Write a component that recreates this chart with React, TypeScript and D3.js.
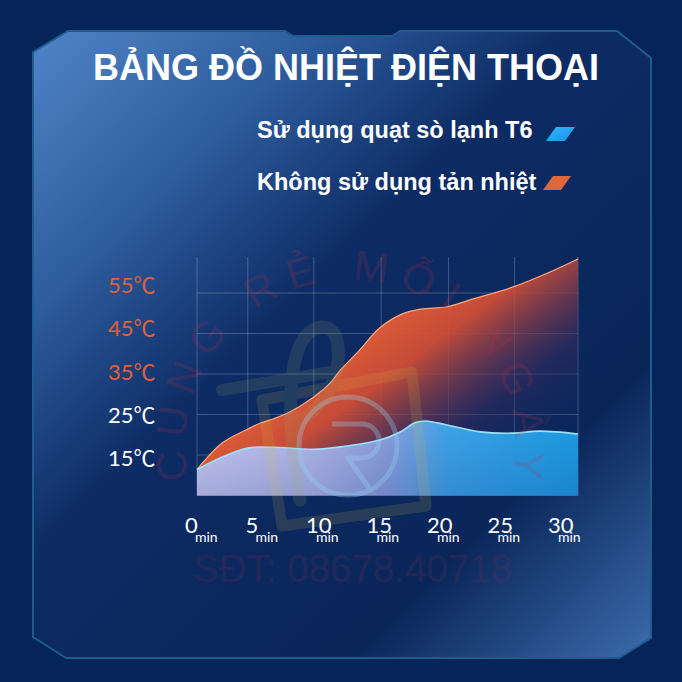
import React from "react";
import * as d3 from "d3";

// ---- data ----
const title = "BẢNG ĐỒ NHIỆT ĐIỆN THOẠI";
const legendLabels = ["Sử dụng quạt sò lạnh T6", "Không sử dụng tản nhiệt"];
const yTickTemps = [55, 45, 35, 25, 15];
const yTickHot = [true, true, true, false, false];
const xTickLabels = ["0", "5", "10", "15", "20", "25", "30"];
const gridMinutes = [0, 4, 9.2, 14.5, 19.8, 25, 30];
const gridTemps = [15, 25, 35, 45, 55];

// No cooling (orange)
const heatMinutes = [0, 2.0, 4.0, 5.0, 6.0, 7.3, 9.2, 10.5, 11.3, 12.6, 14.4, 16.0, 17.6, 19.7, 21.5, 24.9, 27.8, 30];
const heatTemps = [11.4, 18.0, 21.4, 22.9, 23.9, 25.6, 29.3, 32.8, 36.0, 40.2, 46.4, 49.6, 51.0, 51.6, 53.3, 56.5, 60.2, 63.4];

// With cooling fan (blue)
const coolMinutes = [0, 2.0, 4.0, 6.0, 9.2, 11.3, 14.4, 16.0, 17.2, 18.0, 19.7, 22.3, 24.9, 27.0, 30];
const coolTemps = [11.4, 14.5, 16.7, 16.9, 16.4, 17.0, 18.7, 20.7, 23.0, 23.4, 22.4, 20.7, 20.4, 20.9, 20.2];

const watermarkArc = "CUNG RẺ MỖI NGÀY";
const watermarkPhone = "SĐT: 08678.40718";

// ---- layout ----
const W = 682;
const H = 682;
const x = d3.scaleLinear().domain([0, 30]).range([197, 578]);
const y = d3.scaleLinear().domain([15, 55]).range([455, 293]);
const yLabel = d3.scaleLinear().domain([15, 55]).range([458, 285]);
const xLabel = d3.scalePoint<string>().domain(xTickLabels).range([185, 548]);
const chartTop = 257;
const chartBottom = 495.5;

const heatData = heatMinutes.map((m, i) => ({ m, t: heatTemps[i] }));
const coolData = coolMinutes.map((m, i) => ({ m, t: coolTemps[i] }));

const curve = d3.curveCatmullRom.alpha(0.5);
const area = d3
  .area<{ m: number; t: number }>()
  .x((d) => x(d.m))
  .y0(chartBottom)
  .y1((d) => y(d.t))
  .curve(curve);
const line = d3
  .line<{ m: number; t: number }>()
  .x((d) => x(d.m))
  .y((d) => y(d.t))
  .curve(curve);

const panelPath =
  "M33,52 L68,31 L285,31 L293,36 L392,36 L400,31 L617,31 L651,58 L651,638 L619,658 L66,658 L33,637 Z";

export default function App() {
  const cx = 350, cy = 445, r = 165;
  const a0 = (168 * Math.PI) / 180, a1 = (12 * Math.PI) / 180;
  const arcPath = `M${cx + r * Math.cos(a0)},${cy + r * Math.sin(a0)} A${r},${r} 0 1 1 ${cx + r * Math.cos(a1)},${cy + r * Math.sin(a1)}`;
  return (
    <svg
      width={W}
      height={H}
      viewBox={`0 0 ${W} ${H}`}
      style={{ position: "absolute", left: 0, top: 0, display: "block" }}
    >
      <defs>
        <linearGradient id="panelGrad" gradientUnits="userSpaceOnUse" x1={33} y1={31} x2={651} y2={658}>
          <stop offset="0" stopColor="#5084c7" />
          <stop offset="0.22" stopColor="#2f5e9f" />
          <stop offset="0.43" stopColor="#0d2b64" />
          <stop offset="0.76" stopColor="#0a2659" />
          <stop offset="1" stopColor="#3c6cad" />
        </linearGradient>
        <linearGradient id="heatGrad" gradientUnits="userSpaceOnUse" x1={360} y1={280} x2={500} y2={470}>
          <stop offset="0" stopColor="#f06a36" />
          <stop offset="0.4" stopColor="#cf4d36" stopOpacity="0.95" />
          <stop offset="0.75" stopColor="#3a2a5e" stopOpacity="0.55" />
          <stop offset="1" stopColor="#0d2a62" stopOpacity="0.15" />
        </linearGradient>
        <linearGradient id="coolGrad" gradientUnits="userSpaceOnUse" x1={197} y1={0} x2={578} y2={0}>
          <stop offset="0" stopColor="#cbcbf2" />
          <stop offset="0.3" stopColor="#b4b8e8" />
          <stop offset="0.5" stopColor="#8c9fdc" />
          <stop offset="0.66" stopColor="#3ea4e8" />
          <stop offset="1" stopColor="#1c9ce3" />
        </linearGradient>
        <linearGradient id="coolShade" gradientUnits="userSpaceOnUse" x1={0} y1={420} x2={0} y2={496}>
          <stop offset="0" stopColor="#0a2a7a" stopOpacity="0" />
          <stop offset="1" stopColor="#0a2a7a" stopOpacity="0.2" />
        </linearGradient>
        <linearGradient id="blueIcon" x1="0" y1="0" x2="1" y2="1">
          <stop offset="0" stopColor="#35b8ff" />
          <stop offset="1" stopColor="#1a8fe8" />
        </linearGradient>
      </defs>

      <rect x={0} y={0} width={W} height={H} fill="#04245a" />
      <path d={panelPath} fill="url(#panelGrad)" stroke="#1c5d8c" strokeWidth={2} />

      {/* title */}
      <text
        x={346}
        y={80}
        textAnchor="middle"
        fill="#ffffff"
        fontFamily="'Liberation Sans', Arial, sans-serif"
        fontWeight="bold"
        fontSize={36}
      >
        {title}
      </text>

      {/* legend */}
      <text x={257} y={138} fill="#ffffff" fontFamily="'Liberation Sans', Arial, sans-serif" fontWeight="bold" fontSize={23.5}>
        {legendLabels[0]}
      </text>
      <polygon points="556,127 575,127 565,141 546,141" fill="url(#blueIcon)" />
      <text x={257} y={190} fill="#ffffff" fontFamily="'Liberation Sans', Arial, sans-serif" fontWeight="bold" fontSize={23.5}>
        {legendLabels[1]}
      </text>
      <polygon points="553,176 571,176 561,190 543,190" fill="#e0663c" />

      {/* grid */}
      <g stroke="#ffffff" strokeOpacity={0.22} strokeWidth={1}>
        {gridMinutes.map((m, i) => (
          <line key={"v" + i} x1={x(m)} x2={x(m)} y1={chartTop} y2={chartBottom} />
        ))}
        {gridTemps.map((t, i) => (
          <line key={"h" + i} x1={x(0)} x2={x(30)} y1={y(t)} y2={y(t)} />
        ))}
        <line x1={x(0)} x2={x(30)} y1={chartBottom} y2={chartBottom} />
      </g>

      {/* areas */}
      <path d={area(heatData) || ""} fill="url(#heatGrad)" />
      <path d={line(heatData) || ""} fill="none" stroke="#ffab7a" strokeWidth={1.2} />
      <path d={area(coolData) || ""} fill="url(#coolGrad)" />
      <path d={area(coolData) || ""} fill="url(#coolShade)" />
      <path d={line(coolData) || ""} fill="none" stroke="#9be4ff" strokeWidth={1.6} />

      {/* watermark */}
      <g opacity={0.14} fill="none">
        <path d="M262,400 L412,372 L426,506 L282,526 Z" stroke="#d8c040" strokeWidth={11} strokeLinejoin="round" />
        <path d="M300,500 C290,440 285,380 300,345 C312,320 335,322 338,345 C342,380 320,410 300,420" stroke="#a0b060" strokeWidth={13} strokeLinecap="round" />
        <path d="M222,390 L330,372" stroke="#a0b060" strokeWidth={12} strokeLinecap="round" />
      </g>
      <g opacity={0.32} fill="none" stroke="#9ad4f5" strokeWidth={5}>
        <circle cx={348} cy={446} r={49} />
        <path d="M332,424 L362,424 A17,17 0 0 1 362,458 L348,458 L372,492" strokeLinejoin="round" />
      </g>
      <path id="wmArc" d={arcPath} fill="none" stroke="none" />
      <text fill="#c0304a" opacity={0.18} fontFamily="'Liberation Sans', Arial, sans-serif" fontSize={42}>
        <textPath href="#wmArc" startOffset="0" textLength={585} lengthAdjust="spacing">
          {watermarkArc}
        </textPath>
      </text>
      <text
        x={193}
        y={582}
        fill="#a0284a"
        opacity={0.15}
        fontFamily="'Liberation Sans', Arial, sans-serif"
        fontSize={38}
        textLength={319}
        lengthAdjust="spacingAndGlyphs"
      >
        {watermarkPhone}
      </text>

      {/* y labels */}
      {yTickTemps.map((t, i) => (
        <text
          key={"yl" + i}
          x={108}
          y={yLabel(t) + 8}
          fill={yTickHot[i] ? "#e0603c" : "#ffffff"}
          fontFamily="Lato, 'Noto Sans CJK SC', sans-serif"
          fontSize={22}
        >
          {`${t}℃`}
        </text>
      ))}

      {/* x labels */}
      {xTickLabels.map((lab, i) => {
        const sx = xLabel(lab) || 0;
        return (
          <text key={"xl" + i} x={sx} y={533} fill="#ffffff" fontFamily="Lato, sans-serif" fontSize={22}>
            {lab}
            <tspan x={sx + 10} dy={9} fontSize={14}>
              min
            </tspan>
          </text>
        );
      })}
    </svg>
  );
}
